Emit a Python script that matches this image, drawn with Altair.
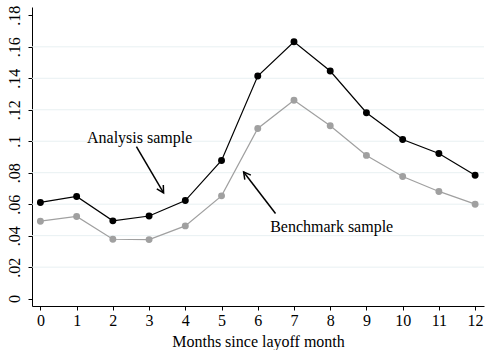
import altair as alt
import pandas as pd

# Monthly rates after a layoff, by sample
months = list(range(13))
analysis = [0.0611, 0.0649, 0.0494, 0.0525, 0.0623, 0.0878, 0.1414,
            0.1632, 0.1446, 0.1181, 0.1011, 0.0922, 0.0784]
benchmark = [0.0492, 0.0522, 0.0377, 0.0375, 0.0462, 0.0653, 0.1081,
             0.1260, 0.1098, 0.0910, 0.0776, 0.0681, 0.0600]

y_ticks = [0, 0.02, 0.04, 0.06, 0.08, 0.10, 0.12, 0.14, 0.16, 0.18]
grid_vals = [0.02, 0.04, 0.06, 0.08, 0.10, 0.12, 0.14, 0.16]

# Annotation labels and arrows (data coordinates)
labels = ["Analysis sample", "Benchmark sample"]
label_x = [2.74, 8.04]
label_y = [0.1023, 0.0454]
arrow_x = [2.65, 6.49]
arrow_y = [0.0965, 0.0541]
arrow_x2 = [3.40, 5.61]
arrow_y2 = [0.0672, 0.0805]
arrow_angle = [149.3, 322.7]

FONT = "Liberation Serif"
FS = 16

series = pd.DataFrame({
    "month": months * 2,
    "rate": analysis + benchmark,
    "sample": ["Analysis"] * 13 + ["Benchmark"] * 13,
})
notes = pd.DataFrame({"label": labels, "x": label_x, "y": label_y})
arrows = pd.DataFrame({"x": arrow_x, "y": arrow_y, "x2": arrow_x2,
                       "y2": arrow_y2, "angle": arrow_angle})
grid = pd.DataFrame({"g": grid_vals})

xscale = alt.Scale(domain=[-0.232, 12.245], nice=False, zero=False)
yscale = alt.Scale(domain=[-0.0047, 0.1853], nice=False, zero=False)
color = alt.Scale(domain=["Analysis", "Benchmark"], range=["#000000", "#a0a0a0"])

x_axis = alt.Axis(values=months, title="Months since layoff month", grid=False,
                  tickSize=4, labelPadding=2, titlePadding=5,
                  labelFontSize=FS, titleFontSize=FS, labelFont=FONT,
                  titleFont=FONT, titleFontWeight="normal",
                  labelColor="black", titleColor="black",
                  domainColor="black", tickColor="black", labelFlush=False,
                  labelOverlap=False)
y_axis = alt.Axis(values=y_ticks, title=None, grid=False, tickSize=4,
                  labelAngle=270, labelAlign="center", labelBaseline="bottom",
                  labelPadding=6, labelFontSize=FS, labelFont=FONT,
                  labelColor="black", domainColor="black", tickColor="black",
                  labelFlush=False, labelOverlap=False,
                  labelExpr="datum.value == 0 ? '0' : substring(format(datum.value, '.2~f'), 1)")


def X(field):
    return alt.X(field, type="quantitative", scale=xscale, axis=x_axis)


def Y(field):
    return alt.Y(field, type="quantitative", scale=yscale, axis=y_axis)


gridlines = alt.Chart(grid).mark_rule(color="#e8f0f2", strokeWidth=1).encode(
    y=Y("g")
)

base = alt.Chart(series).encode(
    x=X("month"),
    y=Y("rate"),
    color=alt.Color("sample:N", scale=color, legend=None),
)
lines = base.mark_line(strokeWidth=1.2)
points = base.mark_point(filled=True, size=48, opacity=1)

text = alt.Chart(notes).mark_text(font=FONT, fontSize=FS, color="black",
                                  baseline="middle", align="center").encode(
    x=X("x"), y=Y("y"), text="label:N"
)
shafts = alt.Chart(arrows).mark_rule(color="black", strokeWidth=1.5).encode(
    x=X("x"), y=Y("y"), x2="x2:Q", y2="y2:Q"
)
heads = alt.Chart(arrows).mark_point(
    shape="M-0.55,1 L0,0 L0.55,1", filled=False, color="black",
    strokeWidth=1.5, size=190, opacity=1
).encode(
    x=X("x2"), y=Y("y2"),
    angle=alt.Angle("angle:Q", scale=None)
)

chart = alt.layer(gridlines, lines, points, shafts, heads, text).properties(
    width=452, height=299,
    autosize=alt.AutoSizeParams(type="none"),
    padding={"left": 32, "top": 7, "right": 1, "bottom": 44},
    background="white",
).configure_view(stroke=None).configure_axis(labelOverlap=False)

chart.save("out.html", embed_options={"renderer": "svg", "actions": False})
